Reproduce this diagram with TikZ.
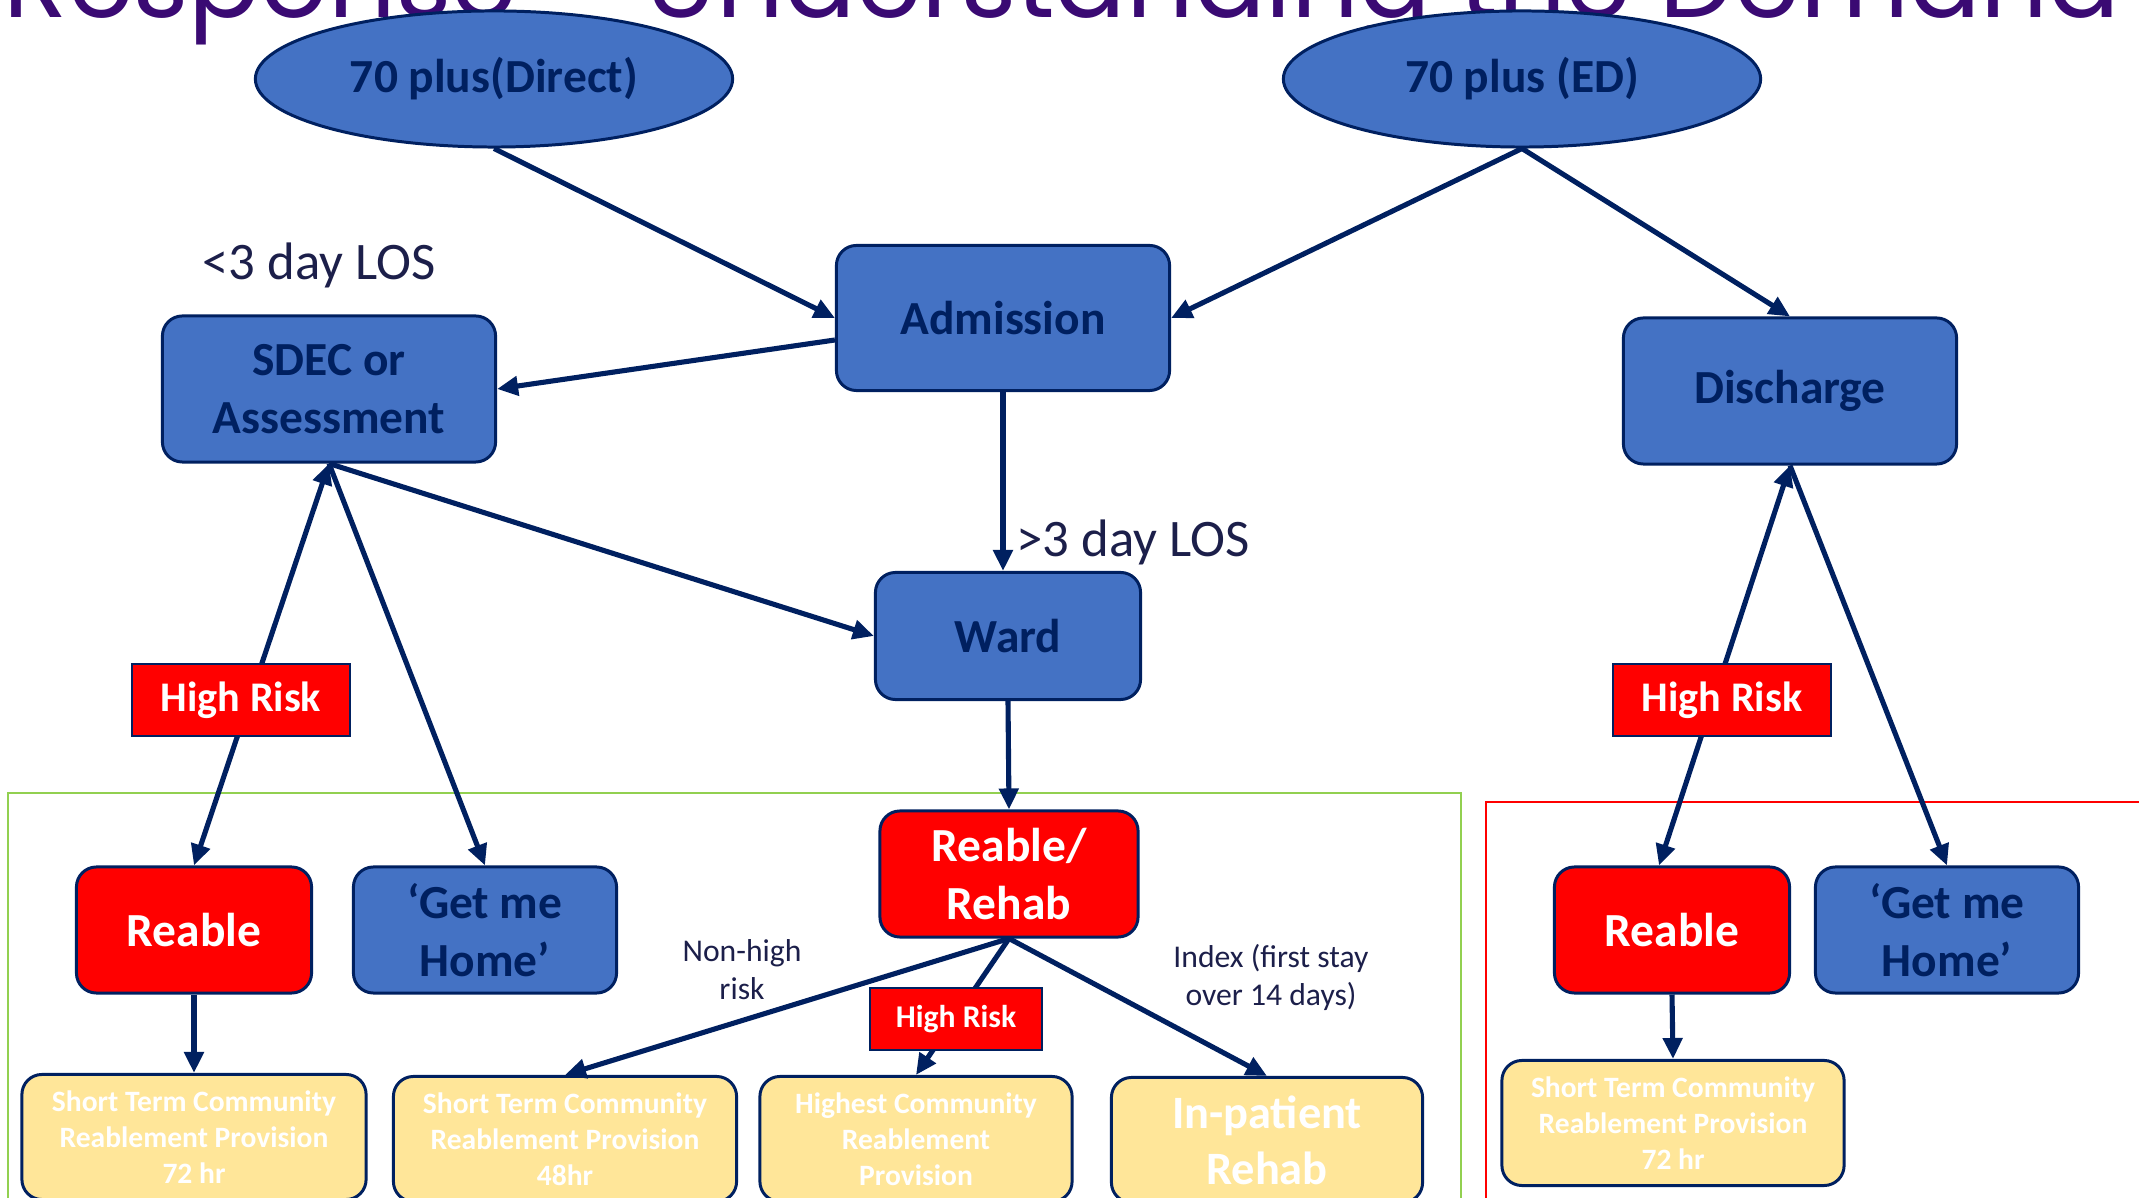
\documentclass[tikz,border=0pt]{standalone}
\usepackage{graphicx}
\usepackage{fontspec}
\setmainfont{Carlito}
\newfontfamily\titlefont{Poppins}
\usetikzlibrary{shapes.geometric, arrows.meta, calc}

\definecolor{boxblue}{HTML}{4472C4}
\definecolor{navy}{HTML}{002060}
\definecolor{riskred}{HTML}{FF0000}
\definecolor{provyellow}{HTML}{FFE699}
\definecolor{framegreen}{HTML}{92D050}
\definecolor{titlepurple}{HTML}{3A0A73}
\definecolor{labelink}{HTML}{1C1F4A}

\begin{document}
\begin{tikzpicture}[x=0.01cm, y=-0.01cm,
                    >={Triangle[length=2.1mm, width=1.9mm]}]

        % Setup the styles for the boxes
        \tikzset{base box/.style={draw=navy, line width=0.85pt, align=center,
                                  font=\bfseries\fontsize{13.5}{16.5}\selectfont},
                 blue box/.style={base box, rectangle, rounded corners=0.2cm,
                                  fill=boxblue, text=navy},
                 red box/.style={base box, rectangle, rounded corners=0.2cm,
                                 fill=riskred, text=white},
                 oval/.style={base box, ellipse, fill=boxblue, text=navy,
                              minimum width=4.77cm, minimum height=1.36cm},
                 risk/.style={draw=navy, line width=0.6pt, fill=riskred, text=white,
                              font=\bfseries\fontsize{12}{14}\selectfont},
                 provision/.style={base box, rectangle, rounded corners=0.2cm,
                                   fill=provyellow, text=white, minimum height=1.25cm,
                                   font=\bfseries\fontsize{8.4}{10.2}\selectfont},
                 note/.style={text=labelink, align=center,
                              font=\fontsize{9}{10.8}\selectfont},
                 los/.style={text=labelink, font=\fontsize{15}{18}\selectfont},
                 flow/.style={draw=navy, line width=1.45pt, ->}}

        \useasboundingbox (0, 0) rectangle (2139, 1198);
        \clip (0, 0) rectangle (2139, 1198);

        % Draw the title and the frames
        \node[anchor=base west, inner sep=0, text=titlepurple]
                                at (3, 18)     (title)
                {\resizebox{21.15cm}{!}{\titlefont Response – Understanding the Demand}};
        \draw[framegreen, line width=0.6pt] (8, 793) rectangle (1461, 1230);
        \draw[riskred, line width=0.6pt] (1486, 802) rectangle (2160, 1230);

        % Draw the boxes
        \node[oval]             at (494, 79)    (direct)  {70 plus(Direct)};
        \node[oval]             at (1522, 79)   (ed)      {70 plus (ED)};
        \node[blue box, minimum width=3.33cm, minimum height=1.45cm]
                                at (1003, 318)  (adm)     {Admission};
        \node[blue box, minimum width=3.33cm, minimum height=1.46cm]
                                at (329, 389)   (sdec)    {SDEC or\\Assessment};
        \node[blue box, minimum width=3.33cm, minimum height=1.46cm]
                                at (1790, 391)  (dis)     {Discharge};
        \node[blue box, minimum width=2.65cm, minimum height=1.27cm]
                                at (1008, 636)  (ward)    {Ward};
        \node[red box, minimum width=2.35cm, minimum height=1.26cm]
                                at (194, 930)   (reableL) {Reable};
        \node[blue box, minimum width=2.63cm, minimum height=1.26cm]
                                at (485, 930)   (homeL)   {‘Get me\\Home’};
        \node[red box, minimum width=2.58cm, minimum height=1.26cm]
                                at (1009, 874)  (rehab)   {Reable/\\Rehab};
        \node[red box, minimum width=2.35cm, minimum height=1.26cm]
                                at (1672, 930)  (reableR) {Reable};
        \node[blue box, minimum width=2.63cm, minimum height=1.26cm]
                                at (1947, 930)  (homeR)   {‘Get me\\Home’};

        % Draw the provision boxes
        \node[provision, minimum width=3.44cm]
                at (194, 1137)  (provL)   {Short Term Community\\Reablement Provision\\72 hr};
        \node[provision, minimum width=3.43cm]
                at (565, 1139)  (prov48)  {Short Term Community\\Reablement Provision\\48hr};
        \node[provision, minimum width=3.12cm]
                at (916, 1139)  (highest) {Highest Community\\Reablement\\Provision};
        \node[provision, minimum width=3.11cm, font=\bfseries\fontsize{13.2}{16}\selectfont]
                at (1267, 1140) (inpat)   {In-patient\\Rehab};
        \node[provision, minimum width=3.42cm]
                at (1673, 1123) (provR)   {Short Term Community\\Reablement Provision\\72 hr};

        % Free labels
        \node[los]              at (319, 265)   (short)   {<3 day LOS};
        \node[los, anchor=west] at (1004, 542)  (long)    {>3 day LOS};
        \node[note]             at (742, 970)   (nonhigh) {Non-high\\risk};
        \node[note]             at (1271, 977)  (index)   {Index (first stay\\over 14 days)};

        % Connect the boxes with arrows
        \path[every edge/.style={flow}]
            (direct.south)  edge (adm.west)
            (ed.south)      edge (adm.east)
            (ed.south)      edge (dis.north)
            ($(adm.west)+(0, 22)$) edge (sdec.east)
            (adm.south)     edge (adm.south |- ward.north)
            (sdec.south)    edge (ward.west)
            (sdec.south)    edge[<->] (reableL.north)
            (sdec.south)    edge (homeL.north)
            (ward.south)    edge (rehab.north)
            (rehab.south)   edge (prov48.north)
            (rehab.south)   edge (highest.north)
            (rehab.south)   edge (inpat.north)
            (reableL.south) edge (provL.north)
            (dis.south)     edge[<->] ([xshift=-0.13cm]reableR.north)
            (dis.south)     edge (homeR.north)
            (reableR.south) edge (provR.north);

        % Risk labels on top of the arrows
        \node[risk, minimum width=2.18cm, minimum height=0.72cm]
                                at (241, 700)   (riskL)   {High Risk};
        \node[risk, minimum width=2.18cm, minimum height=0.72cm]
                                at (1722, 700)  (riskR)   {High Risk};
        \node[risk, minimum width=1.72cm, minimum height=0.62cm,
              font=\bfseries\fontsize{9}{11}\selectfont]
                                at (956, 1019)  (riskM)   {High Risk};
\end{tikzpicture}
\end{document}
